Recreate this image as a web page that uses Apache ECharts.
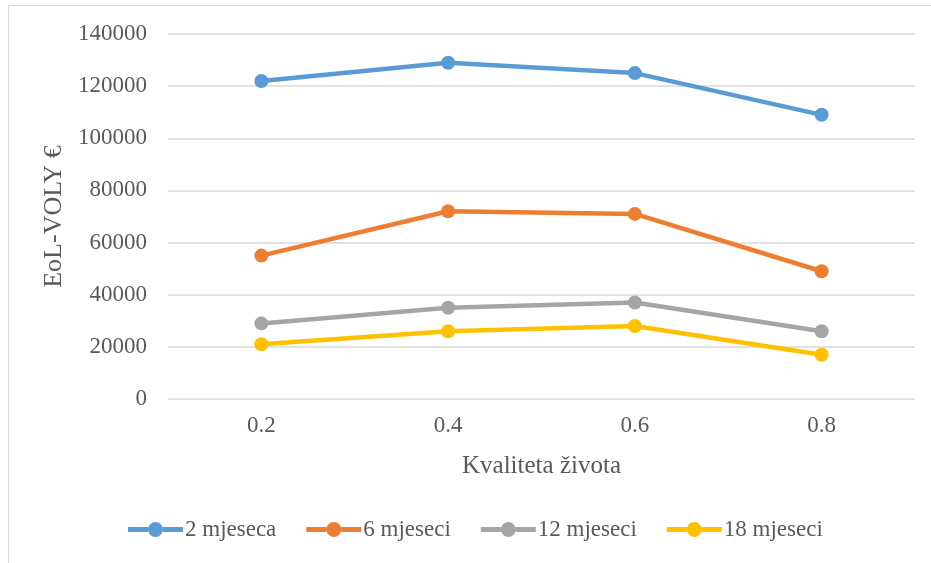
<!DOCTYPE html>
<html>
<head>
<meta charset="utf-8">
<script src="https://cdn.jsdelivr.net/npm/echarts@6/dist/echarts.min.js"></script>
<style>
  html, body { margin: 0; padding: 0; background: #ffffff; }
  #chart { width: 931px; height: 563px; }
</style>
</head>
<body>
<div id="chart"></div>
<script>
// Quality-of-life categories on the x axis
const categories = ['0.2', '0.4', '0.6', '0.8'];

// EoL-VOLY values per survival horizon
const seriesNames = ['2 mjeseca', '6 mjeseci', '12 mjeseci', '18 mjeseci'];
const twoMonths = [122000, 129000, 125000, 109000];
const sixMonths = [55000, 72000, 71000, 49000];
const twelveMonths = [29000, 35000, 37000, 26000];
const eighteenMonths = [21000, 26000, 28000, 17000];

const colors = ['#5B9BD5', '#ED7D31', '#A5A5A5', '#FFC000'];
const font = '"Liberation Serif", "Times New Roman", serif';
const textColor = '#595959';

// Legend marker: a thick line segment with a dot in the middle
const legendIcon = 'path://M0,5 L20,5 L20,10 L0,10 Z M35,5 L55,5 L55,10 L35,10 Z ' +
  'M20,7.5 A7.5,7.5 0 1,1 35,7.5 A7.5,7.5 0 1,1 20,7.5 Z';

const chart = echarts.init(document.getElementById('chart'), null, { renderer: 'canvas' });

function makeSeries(name, data, color) {
  return {
    name: name,
    type: 'line',
    data: data,
    symbol: 'circle',
    symbolSize: 14,
    lineStyle: { width: 4.5, color: color },
    itemStyle: { color: color },
    emphasis: { disabled: true }
  };
}

chart.setOption({
  animation: false,
  color: colors,
  textStyle: { fontFamily: font },
  graphic: [{
    type: 'rect',
    shape: { x: 8.5, y: 5.5, width: 1000, height: 1000 },
    style: { fill: 'none', stroke: '#d9d9d9', lineWidth: 1 },
    silent: true,
    z: -1
  }],
  grid: { left: 168, right: 16, top: 34, bottom: 164, containLabel: false },
  xAxis: {
    type: 'category',
    data: categories,
    boundaryGap: true,
    name: 'Kvaliteta života',
    nameLocation: 'middle',
    nameGap: 55,
    nameTextStyle: { fontFamily: font, fontSize: 25, color: textColor },
    axisLine: { show: false },
    axisTick: { show: false },
    axisLabel: { fontFamily: font, fontSize: 23, color: textColor, margin: 15 }
  },
  yAxis: {
    type: 'value',
    min: 0,
    max: 140000,
    interval: 20000,
    name: 'EoL-VOLY €',
    nameLocation: 'middle',
    nameGap: 97,
    nameRotate: 90,
    nameTextStyle: { fontFamily: font, fontSize: 26, color: textColor },
    axisLine: { show: false },
    axisTick: { show: false },
    axisLabel: {
      fontFamily: font, fontSize: 23, color: textColor, margin: 21,
      formatter: function (v) { return String(v); }
    },
    splitLine: { lineStyle: { color: '#d9d9d9', width: 1.5 } }
  },
  legend: {
    bottom: 17,
    left: 123,
    icon: legendIcon,
    itemWidth: 55,
    itemHeight: 15,
    itemGap: 30,
    textStyle: { fontFamily: font, fontSize: 23, color: textColor, padding: [0, 0, 0, -3] },
    data: seriesNames
  },
  series: [
    makeSeries(seriesNames[0], twoMonths, colors[0]),
    makeSeries(seriesNames[1], sixMonths, colors[1]),
    makeSeries(seriesNames[2], twelveMonths, colors[2]),
    makeSeries(seriesNames[3], eighteenMonths, colors[3])
  ]
});
</script>
</body>
</html>
